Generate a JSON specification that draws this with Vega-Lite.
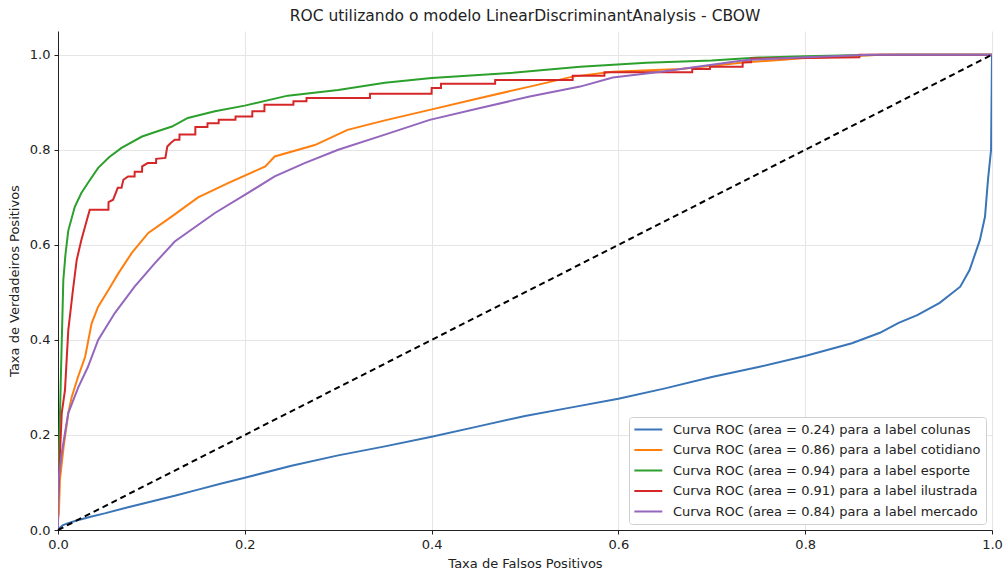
{
  "$schema": "https://vega.github.io/schema/vega-lite/v6.json",
  "width": 934,
  "height": 499,
  "autosize": {"type": "none"},
  "padding": {"left": 58, "top": 31, "right": 13, "bottom": 43},
  "background": "white",
  "config": {
    "font": "DejaVu Sans",
    "view": {"stroke": null},
    "axis": {
      "labelFont": "DejaVu Sans", "labelFontSize": 13, "labelColor": "#222", "labelFlush": false, "labelPadding": 4,
      "titleFont": "DejaVu Sans", "titleFontSize": 13, "titleFontWeight": "normal", "titleColor": "#222",
      "domainColor": "#222", "domainWidth": 1, "tickColor": "#222", "tickSize": 4,
      "gridColor": "#e5e5e5", "gridWidth": 1
    }
  },
  "title": {"text": "ROC utilizando o modelo LinearDiscriminantAnalysis - CBOW", "font": "DejaVu Sans", "fontSize": 15.5, "fontWeight": "normal", "color": "#222", "anchor": "middle", "offset": 7},
  "datasets": {
    "roc": [
      {"s": "Curva ROC (area = 0.24) para a label colunas", "x": 0, "y": 0},
      {"s": "Curva ROC (area = 0.24) para a label colunas", "x": 0.002, "y": 0.005},
      {"s": "Curva ROC (area = 0.24) para a label colunas", "x": 0.005, "y": 0.01},
      {"s": "Curva ROC (area = 0.24) para a label colunas", "x": 0.01, "y": 0.014},
      {"s": "Curva ROC (area = 0.24) para a label colunas", "x": 0.02, "y": 0.02},
      {"s": "Curva ROC (area = 0.24) para a label colunas", "x": 0.035, "y": 0.028},
      {"s": "Curva ROC (area = 0.24) para a label colunas", "x": 0.05, "y": 0.035},
      {"s": "Curva ROC (area = 0.24) para a label colunas", "x": 0.075, "y": 0.048},
      {"s": "Curva ROC (area = 0.24) para a label colunas", "x": 0.1, "y": 0.06},
      {"s": "Curva ROC (area = 0.24) para a label colunas", "x": 0.125, "y": 0.072},
      {"s": "Curva ROC (area = 0.24) para a label colunas", "x": 0.15, "y": 0.085},
      {"s": "Curva ROC (area = 0.24) para a label colunas", "x": 0.175, "y": 0.098},
      {"s": "Curva ROC (area = 0.24) para a label colunas", "x": 0.2, "y": 0.11},
      {"s": "Curva ROC (area = 0.24) para a label colunas", "x": 0.25, "y": 0.135},
      {"s": "Curva ROC (area = 0.24) para a label colunas", "x": 0.3, "y": 0.157},
      {"s": "Curva ROC (area = 0.24) para a label colunas", "x": 0.35, "y": 0.176},
      {"s": "Curva ROC (area = 0.24) para a label colunas", "x": 0.4, "y": 0.196},
      {"s": "Curva ROC (area = 0.24) para a label colunas", "x": 0.45, "y": 0.218},
      {"s": "Curva ROC (area = 0.24) para a label colunas", "x": 0.5, "y": 0.24},
      {"s": "Curva ROC (area = 0.24) para a label colunas", "x": 0.55, "y": 0.258},
      {"s": "Curva ROC (area = 0.24) para a label colunas", "x": 0.6, "y": 0.276},
      {"s": "Curva ROC (area = 0.24) para a label colunas", "x": 0.65, "y": 0.298},
      {"s": "Curva ROC (area = 0.24) para a label colunas", "x": 0.7, "y": 0.322},
      {"s": "Curva ROC (area = 0.24) para a label colunas", "x": 0.75, "y": 0.343},
      {"s": "Curva ROC (area = 0.24) para a label colunas", "x": 0.8, "y": 0.366},
      {"s": "Curva ROC (area = 0.24) para a label colunas", "x": 0.85, "y": 0.393},
      {"s": "Curva ROC (area = 0.24) para a label colunas", "x": 0.88, "y": 0.415},
      {"s": "Curva ROC (area = 0.24) para a label colunas", "x": 0.9, "y": 0.436},
      {"s": "Curva ROC (area = 0.24) para a label colunas", "x": 0.92, "y": 0.452},
      {"s": "Curva ROC (area = 0.24) para a label colunas", "x": 0.944, "y": 0.478},
      {"s": "Curva ROC (area = 0.24) para a label colunas", "x": 0.966, "y": 0.512},
      {"s": "Curva ROC (area = 0.24) para a label colunas", "x": 0.976, "y": 0.547},
      {"s": "Curva ROC (area = 0.24) para a label colunas", "x": 0.987, "y": 0.61},
      {"s": "Curva ROC (area = 0.24) para a label colunas", "x": 0.9925, "y": 0.659},
      {"s": "Curva ROC (area = 0.24) para a label colunas", "x": 0.9957, "y": 0.737},
      {"s": "Curva ROC (area = 0.24) para a label colunas", "x": 0.999, "y": 0.8},
      {"s": "Curva ROC (area = 0.24) para a label colunas", "x": 1, "y": 1},

      {"s": "Curva ROC (area = 0.86) para a label cotidiano", "x": 0, "y": 0},
      {"s": "Curva ROC (area = 0.86) para a label cotidiano", "x": 0, "y": 0.02},
      {"s": "Curva ROC (area = 0.86) para a label cotidiano", "x": 0.001, "y": 0.036},
      {"s": "Curva ROC (area = 0.86) para a label cotidiano", "x": 0.002, "y": 0.105},
      {"s": "Curva ROC (area = 0.86) para a label cotidiano", "x": 0.006, "y": 0.175},
      {"s": "Curva ROC (area = 0.86) para a label cotidiano", "x": 0.011, "y": 0.246},
      {"s": "Curva ROC (area = 0.86) para a label cotidiano", "x": 0.0147, "y": 0.28},
      {"s": "Curva ROC (area = 0.86) para a label cotidiano", "x": 0.0214, "y": 0.322},
      {"s": "Curva ROC (area = 0.86) para a label cotidiano", "x": 0.029, "y": 0.364},
      {"s": "Curva ROC (area = 0.86) para a label cotidiano", "x": 0.036, "y": 0.435},
      {"s": "Curva ROC (area = 0.86) para a label cotidiano", "x": 0.043, "y": 0.47},
      {"s": "Curva ROC (area = 0.86) para a label cotidiano", "x": 0.054, "y": 0.505},
      {"s": "Curva ROC (area = 0.86) para a label cotidiano", "x": 0.0646, "y": 0.54},
      {"s": "Curva ROC (area = 0.86) para a label cotidiano", "x": 0.079, "y": 0.583},
      {"s": "Curva ROC (area = 0.86) para a label cotidiano", "x": 0.0967, "y": 0.625},
      {"s": "Curva ROC (area = 0.86) para a label cotidiano", "x": 0.122, "y": 0.66},
      {"s": "Curva ROC (area = 0.86) para a label cotidiano", "x": 0.15, "y": 0.7},
      {"s": "Curva ROC (area = 0.86) para a label cotidiano", "x": 0.182, "y": 0.73},
      {"s": "Curva ROC (area = 0.86) para a label cotidiano", "x": 0.222, "y": 0.765},
      {"s": "Curva ROC (area = 0.86) para a label cotidiano", "x": 0.232, "y": 0.786},
      {"s": "Curva ROC (area = 0.86) para a label cotidiano", "x": 0.275, "y": 0.81},
      {"s": "Curva ROC (area = 0.86) para a label cotidiano", "x": 0.31, "y": 0.842},
      {"s": "Curva ROC (area = 0.86) para a label cotidiano", "x": 0.35, "y": 0.862},
      {"s": "Curva ROC (area = 0.86) para a label cotidiano", "x": 0.398, "y": 0.884},
      {"s": "Curva ROC (area = 0.86) para a label cotidiano", "x": 0.452, "y": 0.909},
      {"s": "Curva ROC (area = 0.86) para a label cotidiano", "x": 0.505, "y": 0.933},
      {"s": "Curva ROC (area = 0.86) para a label cotidiano", "x": 0.551, "y": 0.954},
      {"s": "Curva ROC (area = 0.86) para a label cotidiano", "x": 0.594, "y": 0.964},
      {"s": "Curva ROC (area = 0.86) para a label cotidiano", "x": 0.666, "y": 0.97},
      {"s": "Curva ROC (area = 0.86) para a label cotidiano", "x": 0.737, "y": 0.984},
      {"s": "Curva ROC (area = 0.86) para a label cotidiano", "x": 0.773, "y": 0.989},
      {"s": "Curva ROC (area = 0.86) para a label cotidiano", "x": 0.8, "y": 0.993},
      {"s": "Curva ROC (area = 0.86) para a label cotidiano", "x": 0.85, "y": 0.997},
      {"s": "Curva ROC (area = 0.86) para a label cotidiano", "x": 0.88, "y": 1},
      {"s": "Curva ROC (area = 0.86) para a label cotidiano", "x": 1, "y": 1},

      {"s": "Curva ROC (area = 0.94) para a label esporte", "x": 0, "y": 0},
      {"s": "Curva ROC (area = 0.94) para a label esporte", "x": 0, "y": 0.05},
      {"s": "Curva ROC (area = 0.94) para a label esporte", "x": 0.001, "y": 0.15},
      {"s": "Curva ROC (area = 0.94) para a label esporte", "x": 0.003, "y": 0.316},
      {"s": "Curva ROC (area = 0.94) para a label esporte", "x": 0.0057, "y": 0.526},
      {"s": "Curva ROC (area = 0.94) para a label esporte", "x": 0.008, "y": 0.58},
      {"s": "Curva ROC (area = 0.94) para a label esporte", "x": 0.011, "y": 0.63},
      {"s": "Curva ROC (area = 0.94) para a label esporte", "x": 0.018, "y": 0.68},
      {"s": "Curva ROC (area = 0.94) para a label esporte", "x": 0.025, "y": 0.709},
      {"s": "Curva ROC (area = 0.94) para a label esporte", "x": 0.032, "y": 0.73},
      {"s": "Curva ROC (area = 0.94) para a label esporte", "x": 0.043, "y": 0.762},
      {"s": "Curva ROC (area = 0.94) para a label esporte", "x": 0.055, "y": 0.785},
      {"s": "Curva ROC (area = 0.94) para a label esporte", "x": 0.068, "y": 0.804},
      {"s": "Curva ROC (area = 0.94) para a label esporte", "x": 0.09, "y": 0.828},
      {"s": "Curva ROC (area = 0.94) para a label esporte", "x": 0.105, "y": 0.838},
      {"s": "Curva ROC (area = 0.94) para a label esporte", "x": 0.122, "y": 0.849},
      {"s": "Curva ROC (area = 0.94) para a label esporte", "x": 0.139, "y": 0.867},
      {"s": "Curva ROC (area = 0.94) para a label esporte", "x": 0.168, "y": 0.881},
      {"s": "Curva ROC (area = 0.94) para a label esporte", "x": 0.2, "y": 0.893},
      {"s": "Curva ROC (area = 0.94) para a label esporte", "x": 0.246, "y": 0.914},
      {"s": "Curva ROC (area = 0.94) para a label esporte", "x": 0.3, "y": 0.926},
      {"s": "Curva ROC (area = 0.94) para a label esporte", "x": 0.35, "y": 0.941},
      {"s": "Curva ROC (area = 0.94) para a label esporte", "x": 0.4, "y": 0.951},
      {"s": "Curva ROC (area = 0.94) para a label esporte", "x": 0.487, "y": 0.962},
      {"s": "Curva ROC (area = 0.94) para a label esporte", "x": 0.559, "y": 0.975},
      {"s": "Curva ROC (area = 0.94) para a label esporte", "x": 0.63, "y": 0.983},
      {"s": "Curva ROC (area = 0.94) para a label esporte", "x": 0.7, "y": 0.988},
      {"s": "Curva ROC (area = 0.94) para a label esporte", "x": 0.75, "y": 0.994},
      {"s": "Curva ROC (area = 0.94) para a label esporte", "x": 0.8, "y": 0.997},
      {"s": "Curva ROC (area = 0.94) para a label esporte", "x": 0.85, "y": 0.999},
      {"s": "Curva ROC (area = 0.94) para a label esporte", "x": 0.9, "y": 1},
      {"s": "Curva ROC (area = 0.94) para a label esporte", "x": 1, "y": 1},

      {"s": "Curva ROC (area = 0.91) para a label ilustrada", "x": 0, "y": 0},
      {"s": "Curva ROC (area = 0.91) para a label ilustrada", "x": 0, "y": 0.06},
      {"s": "Curva ROC (area = 0.91) para a label ilustrada", "x": 0.002, "y": 0.154},
      {"s": "Curva ROC (area = 0.91) para a label ilustrada", "x": 0.004, "y": 0.246},
      {"s": "Curva ROC (area = 0.91) para a label ilustrada", "x": 0.0075, "y": 0.295},
      {"s": "Curva ROC (area = 0.91) para a label ilustrada", "x": 0.011, "y": 0.42},
      {"s": "Curva ROC (area = 0.91) para a label ilustrada", "x": 0.016, "y": 0.505},
      {"s": "Curva ROC (area = 0.91) para a label ilustrada", "x": 0.02, "y": 0.568},
      {"s": "Curva ROC (area = 0.91) para a label ilustrada", "x": 0.025, "y": 0.61},
      {"s": "Curva ROC (area = 0.91) para a label ilustrada", "x": 0.031, "y": 0.653},
      {"s": "Curva ROC (area = 0.91) para a label ilustrada", "x": 0.034, "y": 0.674},
      {"s": "Curva ROC (area = 0.91) para a label ilustrada", "x": 0.054, "y": 0.674},
      {"s": "Curva ROC (area = 0.91) para a label ilustrada", "x": 0.0541, "y": 0.69},
      {"s": "Curva ROC (area = 0.91) para a label ilustrada", "x": 0.059, "y": 0.695},
      {"s": "Curva ROC (area = 0.91) para a label ilustrada", "x": 0.064, "y": 0.72},
      {"s": "Curva ROC (area = 0.91) para a label ilustrada", "x": 0.068, "y": 0.72},
      {"s": "Curva ROC (area = 0.91) para a label ilustrada", "x": 0.07, "y": 0.737},
      {"s": "Curva ROC (area = 0.91) para a label ilustrada", "x": 0.075, "y": 0.744},
      {"s": "Curva ROC (area = 0.91) para a label ilustrada", "x": 0.082, "y": 0.744},
      {"s": "Curva ROC (area = 0.91) para a label ilustrada", "x": 0.0821, "y": 0.754},
      {"s": "Curva ROC (area = 0.91) para a label ilustrada", "x": 0.09, "y": 0.754},
      {"s": "Curva ROC (area = 0.91) para a label ilustrada", "x": 0.0901, "y": 0.765},
      {"s": "Curva ROC (area = 0.91) para a label ilustrada", "x": 0.096, "y": 0.772},
      {"s": "Curva ROC (area = 0.91) para a label ilustrada", "x": 0.105, "y": 0.772},
      {"s": "Curva ROC (area = 0.91) para a label ilustrada", "x": 0.1051, "y": 0.781},
      {"s": "Curva ROC (area = 0.91) para a label ilustrada", "x": 0.115, "y": 0.783},
      {"s": "Curva ROC (area = 0.91) para a label ilustrada", "x": 0.117, "y": 0.807},
      {"s": "Curva ROC (area = 0.91) para a label ilustrada", "x": 0.121, "y": 0.815},
      {"s": "Curva ROC (area = 0.91) para a label ilustrada", "x": 0.125, "y": 0.821},
      {"s": "Curva ROC (area = 0.91) para a label ilustrada", "x": 0.13, "y": 0.821},
      {"s": "Curva ROC (area = 0.91) para a label ilustrada", "x": 0.1301, "y": 0.832},
      {"s": "Curva ROC (area = 0.91) para a label ilustrada", "x": 0.147, "y": 0.832},
      {"s": "Curva ROC (area = 0.91) para a label ilustrada", "x": 0.1471, "y": 0.848},
      {"s": "Curva ROC (area = 0.91) para a label ilustrada", "x": 0.16, "y": 0.848},
      {"s": "Curva ROC (area = 0.91) para a label ilustrada", "x": 0.1601, "y": 0.856},
      {"s": "Curva ROC (area = 0.91) para a label ilustrada", "x": 0.172, "y": 0.856},
      {"s": "Curva ROC (area = 0.91) para a label ilustrada", "x": 0.1721, "y": 0.863},
      {"s": "Curva ROC (area = 0.91) para a label ilustrada", "x": 0.19, "y": 0.863},
      {"s": "Curva ROC (area = 0.91) para a label ilustrada", "x": 0.1901, "y": 0.87},
      {"s": "Curva ROC (area = 0.91) para a label ilustrada", "x": 0.208, "y": 0.87},
      {"s": "Curva ROC (area = 0.91) para a label ilustrada", "x": 0.2081, "y": 0.881},
      {"s": "Curva ROC (area = 0.91) para a label ilustrada", "x": 0.221, "y": 0.881},
      {"s": "Curva ROC (area = 0.91) para a label ilustrada", "x": 0.2211, "y": 0.895},
      {"s": "Curva ROC (area = 0.91) para a label ilustrada", "x": 0.252, "y": 0.895},
      {"s": "Curva ROC (area = 0.91) para a label ilustrada", "x": 0.2521, "y": 0.902},
      {"s": "Curva ROC (area = 0.91) para a label ilustrada", "x": 0.266, "y": 0.902},
      {"s": "Curva ROC (area = 0.91) para a label ilustrada", "x": 0.2661, "y": 0.909},
      {"s": "Curva ROC (area = 0.91) para a label ilustrada", "x": 0.334, "y": 0.909},
      {"s": "Curva ROC (area = 0.91) para a label ilustrada", "x": 0.3341, "y": 0.918},
      {"s": "Curva ROC (area = 0.91) para a label ilustrada", "x": 0.4, "y": 0.918},
      {"s": "Curva ROC (area = 0.91) para a label ilustrada", "x": 0.4001, "y": 0.93},
      {"s": "Curva ROC (area = 0.91) para a label ilustrada", "x": 0.41, "y": 0.93},
      {"s": "Curva ROC (area = 0.91) para a label ilustrada", "x": 0.4101, "y": 0.939},
      {"s": "Curva ROC (area = 0.91) para a label ilustrada", "x": 0.468, "y": 0.939},
      {"s": "Curva ROC (area = 0.91) para a label ilustrada", "x": 0.4681, "y": 0.947},
      {"s": "Curva ROC (area = 0.91) para a label ilustrada", "x": 0.551, "y": 0.947},
      {"s": "Curva ROC (area = 0.91) para a label ilustrada", "x": 0.5511, "y": 0.956},
      {"s": "Curva ROC (area = 0.91) para a label ilustrada", "x": 0.585, "y": 0.956},
      {"s": "Curva ROC (area = 0.91) para a label ilustrada", "x": 0.5851, "y": 0.963},
      {"s": "Curva ROC (area = 0.91) para a label ilustrada", "x": 0.679, "y": 0.963},
      {"s": "Curva ROC (area = 0.91) para a label ilustrada", "x": 0.6791, "y": 0.97},
      {"s": "Curva ROC (area = 0.91) para a label ilustrada", "x": 0.698, "y": 0.97},
      {"s": "Curva ROC (area = 0.91) para a label ilustrada", "x": 0.6981, "y": 0.975},
      {"s": "Curva ROC (area = 0.91) para a label ilustrada", "x": 0.733, "y": 0.975},
      {"s": "Curva ROC (area = 0.91) para a label ilustrada", "x": 0.7331, "y": 0.984},
      {"s": "Curva ROC (area = 0.91) para a label ilustrada", "x": 0.742, "y": 0.984},
      {"s": "Curva ROC (area = 0.91) para a label ilustrada", "x": 0.7421, "y": 0.992},
      {"s": "Curva ROC (area = 0.91) para a label ilustrada", "x": 0.858, "y": 0.995},
      {"s": "Curva ROC (area = 0.91) para a label ilustrada", "x": 0.8581, "y": 1},
      {"s": "Curva ROC (area = 0.91) para a label ilustrada", "x": 1, "y": 1},

      {"s": "Curva ROC (area = 0.84) para a label mercado", "x": 0, "y": 0},
      {"s": "Curva ROC (area = 0.84) para a label mercado", "x": 0, "y": 0.05},
      {"s": "Curva ROC (area = 0.84) para a label mercado", "x": 0.0005, "y": 0.105},
      {"s": "Curva ROC (area = 0.84) para a label mercado", "x": 0.004, "y": 0.162},
      {"s": "Curva ROC (area = 0.84) para a label mercado", "x": 0.011, "y": 0.246},
      {"s": "Curva ROC (area = 0.84) para a label mercado", "x": 0.0217, "y": 0.3},
      {"s": "Curva ROC (area = 0.84) para a label mercado", "x": 0.032, "y": 0.343},
      {"s": "Curva ROC (area = 0.84) para a label mercado", "x": 0.043, "y": 0.4},
      {"s": "Curva ROC (area = 0.84) para a label mercado", "x": 0.061, "y": 0.457},
      {"s": "Curva ROC (area = 0.84) para a label mercado", "x": 0.082, "y": 0.512},
      {"s": "Curva ROC (area = 0.84) para a label mercado", "x": 0.104, "y": 0.562},
      {"s": "Curva ROC (area = 0.84) para a label mercado", "x": 0.125, "y": 0.607},
      {"s": "Curva ROC (area = 0.84) para a label mercado", "x": 0.168, "y": 0.667},
      {"s": "Curva ROC (area = 0.84) para a label mercado", "x": 0.2, "y": 0.705},
      {"s": "Curva ROC (area = 0.84) para a label mercado", "x": 0.232, "y": 0.744},
      {"s": "Curva ROC (area = 0.84) para a label mercado", "x": 0.264, "y": 0.772},
      {"s": "Curva ROC (area = 0.84) para a label mercado", "x": 0.3, "y": 0.8},
      {"s": "Curva ROC (area = 0.84) para a label mercado", "x": 0.35, "y": 0.832},
      {"s": "Curva ROC (area = 0.84) para a label mercado", "x": 0.398, "y": 0.863},
      {"s": "Curva ROC (area = 0.84) para a label mercado", "x": 0.452, "y": 0.888},
      {"s": "Curva ROC (area = 0.84) para a label mercado", "x": 0.505, "y": 0.912},
      {"s": "Curva ROC (area = 0.84) para a label mercado", "x": 0.559, "y": 0.933},
      {"s": "Curva ROC (area = 0.84) para a label mercado", "x": 0.594, "y": 0.952},
      {"s": "Curva ROC (area = 0.84) para a label mercado", "x": 0.648, "y": 0.965},
      {"s": "Curva ROC (area = 0.84) para a label mercado", "x": 0.7, "y": 0.979},
      {"s": "Curva ROC (area = 0.84) para a label mercado", "x": 0.737, "y": 0.989},
      {"s": "Curva ROC (area = 0.84) para a label mercado", "x": 0.8, "y": 0.995},
      {"s": "Curva ROC (area = 0.84) para a label mercado", "x": 0.87, "y": 1},
      {"s": "Curva ROC (area = 0.84) para a label mercado", "x": 1, "y": 1}
    ],
    "diag": [
      {"x": 0, "y": 0},
      {"x": 1, "y": 1}
    ]
  },
  "layer": [
    {
      "data": {"name": "roc"},
      "mark": {"type": "line", "strokeWidth": 2, "clip": true},
      "encoding": {
        "x": {"field": "x", "type": "quantitative", "scale": {"domain": [0, 1], "nice": false, "zero": false},
              "axis": {"title": "Taxa de Falsos Positivos", "values": [0, 0.2, 0.4, 0.6, 0.8, 1], "format": ".1f", "titlePadding": 6}},
        "y": {"field": "y", "type": "quantitative", "scale": {"domain": [0, 1.05], "nice": false, "zero": false},
              "axis": {"title": "Taxa de Verdadeiros Positivos", "values": [0, 0.2, 0.4, 0.6, 0.8, 1], "format": ".1f", "titlePadding": 8}},
        "color": {
          "field": "s", "type": "nominal",
          "scale": {
            "domain": [
              "Curva ROC (area = 0.24) para a label colunas",
              "Curva ROC (area = 0.86) para a label cotidiano",
              "Curva ROC (area = 0.94) para a label esporte",
              "Curva ROC (area = 0.91) para a label ilustrada",
              "Curva ROC (area = 0.84) para a label mercado"
            ],
            "range": ["#3a75b8", "#ff7f0e", "#2ca02c", "#d62728", "#9467bd"]
          },
          "legend": {
            "title": null, "orient": "bottom-right", "offset": 6,
            "symbolType": "M-1.1,0H3.2", "symbolSize": 169, "symbolStrokeWidth": 2,
            "labelFont": "DejaVu Sans", "labelFontSize": 13, "labelColor": "#222", "labelLimit": 400,
            "rowPadding": 5.5, "padding": 5, "fillColor": "white", "strokeColor": "#d0d0d0", "cornerRadius": 3, "labelOffset": 24
          }
        },
        "order": {"value": null}
      }
    },
    {
      "data": {"name": "diag"},
      "mark": {"type": "line", "color": "black", "strokeWidth": 2, "strokeDash": [6, 4]},
      "encoding": {
        "x": {"field": "x", "type": "quantitative"},
        "y": {"field": "y", "type": "quantitative"}
      }
    }
  ]
}
